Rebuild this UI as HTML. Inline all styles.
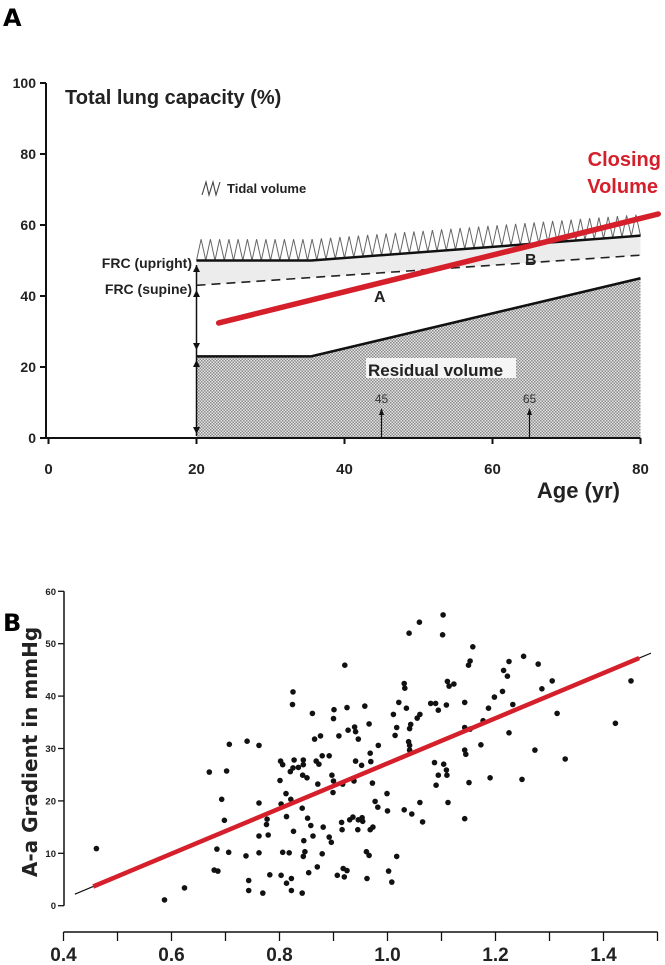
<!DOCTYPE html>
<html><head><meta charset="utf-8"><style>
html,body{margin:0;padding:0;background:#fff;}
svg{display:block;font-family:"Liberation Sans",Arial,sans-serif;}
</style></head><body>
<svg id="fig" width="665" height="965" viewBox="0 0 665 965" xmlns="http://www.w3.org/2000/svg">
<defs>
<pattern id="hatch" width="3" height="3" patternUnits="userSpaceOnUse">
<rect width="3" height="3" fill="#e6e6e6"/><rect width="1.5" height="1.5" fill="#8a8a8a"/><rect x="1.5" y="1.5" width="1.5" height="1.5" fill="#8a8a8a"/>
</pattern>
</defs>
<text x="3" y="26" font-size="24" font-weight="bold" font-family="DejaVu Sans,sans-serif">A</text>
<text x="3" y="631" font-size="24" font-weight="bold" font-family="DejaVu Sans,sans-serif">B</text>
<g id="topPanel"></g>
<g id="botPanel"></g>
</svg>
<script>
// ---- Panel A data ----
const ageTicks = [0, 20, 40, 60, 80];
const tlcTicks = [0, 20, 40, 60, 80, 100];
const rvAges = [20, 35.5, 80];
const rvValues = [23, 23, 45];
const frcUprightAges = [20, 35.5, 80];
const frcUprightValues = [50, 50, 57];
const frcSupineAges = [20, 80];
const frcSupineValues = [43, 51.5];
const closingAges = [23, 82.4];
const closingValues = [32.4, 63.1];
const tidalAmplitude = 6;
const tidalCycles = 48;
const markerAges = [45, 65];

// ---- Panel B data ----
const gradTicksX = [0.4, 0.6, 0.8, 1.0, 1.2, 1.4];
const gradTicksY = [0, 10, 20, 30, 40, 50, 60];
const ptX = [0.461,0.587,0.624,0.670,0.702,0.707,0.740,0.762,0.693,0.698,0.684,0.706,0.679,0.686,0.738,0.743,0.743,0.769,0.762,0.762,0.762,0.779,0.777,0.776,0.782,0.803,0.813,0.822,0.822,0.842,0.802,0.806,0.801,0.812,0.821,0.820,0.825,0.827,0.835,0.844,0.844,0.843,0.851,0.825,0.824,0.861,0.865,0.876,0.868,0.873,0.879,0.892,0.871,0.897,0.900,0.899,0.917,0.910,0.901,0.900,0.925,0.927,0.939,0.941,0.946,0.958,0.966,0.921,0.941,0.952,0.968,0.969,0.938,0.972,0.983,0.803,0.813,0.842,0.852,0.858,0.845,0.862,0.870,0.854,0.847,0.844,0.826,0.818,0.806,0.881,0.879,0.892,0.896,0.915,0.916,0.930,0.936,0.946,0.953,0.945,0.954,0.968,0.973,0.961,0.966,0.962,0.918,0.925,0.907,0.920,0.977,0.982,0.999,1.000,1.017,1.002,1.008,1.011,1.017,1.014,1.021,1.031,1.032,1.035,1.043,1.041,1.039,1.041,1.041,1.055,1.060,1.040,1.059,1.103,1.102,1.080,1.089,1.094,1.109,1.111,1.114,1.123,1.087,1.104,1.109,1.110,1.094,1.090,1.112,1.060,1.065,1.031,1.045,1.143,1.143,1.153,1.143,1.145,1.173,1.151,1.190,1.143,1.158,1.153,1.150,1.177,1.187,1.198,1.213,1.215,1.222,1.225,1.232,1.252,1.225,1.273,1.249,1.279,1.286,1.305,1.314,1.329,1.422,1.451];
const ptY = [10.9,1.1,3.4,25.5,25.7,30.8,31.4,30.6,20.3,16.3,10.8,10.2,6.8,6.6,9.5,4.8,2.9,2.4,19.6,10.1,13.3,13.5,16.5,15.5,5.9,5.8,4.3,5.2,2.9,2.4,27.6,26.9,23.9,21.4,20.3,25.6,26.3,27.8,26.4,27.8,26.9,24.9,24.4,40.8,38.4,36.7,31.8,32.4,27.6,27.0,28.6,28.6,23.2,24.9,23.8,21.6,23.2,32.4,37.4,35.7,37.8,33.5,34.1,33.2,31.8,38.1,34.7,45.9,27.6,26.8,29.1,27.5,23.8,23.4,30.6,19.4,17.0,18.6,16.7,15.3,12.4,13.3,7.4,6.3,10.3,9.4,14.2,10.1,10.2,15.0,9.9,13.1,12.1,15.9,14.5,16.4,16.9,16.4,16.8,14.5,16.1,14.5,15.0,10.3,9.6,5.2,7.1,6.7,5.8,5.5,19.9,18.8,21.4,18.1,9.4,6.6,4.5,36.5,34.0,32.5,38.8,42.4,41.5,37.7,34.6,33.8,31.3,29.7,30.6,35.8,36.5,52.0,54.1,55.5,51.7,38.6,38.6,37.3,38.3,42.8,41.9,42.3,27.3,27.0,25.9,24.9,24.9,23.0,19.7,19.7,16.0,18.3,17.5,38.8,34.0,33.7,29.7,28.9,30.7,23.5,24.4,16.6,49.4,46.7,45.9,35.3,37.7,39.8,40.9,44.9,43.8,46.6,38.4,47.6,33.0,29.7,24.1,46.1,41.4,42.9,36.7,28.0,34.8,42.9];
const fitX = [0.421, 1.488];
const fitY = [2.2, 48.2];
const fitRedX = [0.455, 1.466];

const NS = "http://www.w3.org/2000/svg";
function mk(parent, tag, attrs, text) {
  const el = document.createElementNS(NS, tag);
  for (const k in attrs) el.setAttribute(k, attrs[k]);
  if (text !== undefined) el.textContent = text;
  parent.appendChild(el);
  return el;
}

// ===== Panel A =====
const topG = document.getElementById('topPanel');
const X = a => 48.5 + a * 7.4;
const Y = v => 438 - v * 3.55;
const interp = (xs, ys, x) => { for (let i = 0; i < xs.length - 1; i++) { if (x <= xs[i+1]) { const t = (x - xs[i]) / (xs[i+1] - xs[i]); return ys[i] + t * (ys[i+1] - ys[i]); } } return ys[ys.length-1]; };

let pts = frcUprightAges.map((a,i)=>X(a)+','+Y(frcUprightValues[i]));
let pts2 = [];
for (let i = frcSupineAges.length - 1; i >= 0; i--) pts2.push(X(frcSupineAges[i])+','+Y(frcSupineValues[i]));
let e = mk(topG, 'polygon', {points: pts.concat(pts2).join(' '), fill: '#ececec'});



let rvPts = [X(rvAges[0]) + ',' + Y(0)].concat(rvAges.map((a,i)=>X(a)+','+Y(rvValues[i]))).concat([X(rvAges[rvAges.length-1]) + ',' + Y(0)]);
e = mk(topG, 'polygon', {points: rvPts.join(' '), fill: 'url(#hatch)'});


e = mk(topG, 'polyline', {points: rvAges.map((a,i)=>X(a)+','+Y(rvValues[i])).join(' '), fill: 'none', stroke: '#111', 'stroke-width': 2.5});



let zz = [];
const a0 = frcUprightAges[0], a1 = frcUprightAges[frcUprightAges.length-1];
const nseg = tidalCycles * 2;
for (let i = 0; i <= nseg; i++) {
  const a = a0 + (a1 - a0) * i / nseg;
  const base = interp(frcUprightAges, frcUprightValues, a);
  const v = (i % 2 === 0) ? base : base + tidalAmplitude;
  zz.push(X(a).toFixed(1) + ',' + Y(v).toFixed(1));
}
e = mk(topG, 'polyline', {points: zz.join(' '), fill: 'none', stroke: '#666', 'stroke-width': 1});



e = mk(topG, 'polyline', {points: frcUprightAges.map((a,i)=>X(a)+','+Y(frcUprightValues[i])).join(' '), fill: 'none', stroke: '#111', 'stroke-width': 2.5});


e = mk(topG, 'polyline', {points: frcSupineAges.map((a,i)=>X(a)+','+Y(frcSupineValues[i])).join(' '), fill: 'none', stroke: '#222', 'stroke-width': 1.6, 'stroke-dasharray': '9,6'});



e = mk(topG, 'line', {x1: X(0)-3, y1: Y(0), x2: X(80), y2: Y(0), stroke: '#111', 'stroke-width': 2});


e = mk(topG, 'line', {x1: 46, y1: Y(0)+1, x2: 46, y2: Y(100), stroke: '#111', 'stroke-width': 2});


ageTicks.forEach(a => {
  mk(topG, 'line', {x1: X(a), y1: Y(0), x2: X(a), y2: Y(0)+6, stroke: '#111', 'stroke-width': 2});
  const t = mk(topG, 'text', {x: X(a), y: 474, 'font-size': 15, 'font-weight': 'bold', 'text-anchor': 'middle', fill: '#222'}, String(a));
  
  
});
tlcTicks.forEach(v => {
  mk(topG, 'line', {x1: 40, y1: Y(v), x2: 46, y2: Y(v), stroke: '#111', 'stroke-width': 2});
  const t = mk(topG, 'text', {x: 36, y: Y(v)+5, 'font-size': 14, 'font-weight': 'bold', 'text-anchor': 'end', fill: '#222'}, String(v));
  
  
});

markerAges.forEach(a => {
  mk(topG, 'line', {x1: X(a), y1: Y(0), x2: X(a), y2: 413, stroke: '#111', 'stroke-width': 1.2});
  mk(topG, 'polygon', {points: `${X(a)-2.5},415 ${X(a)+2.5},415 ${X(a)},408`, fill: '#111'});
  const t = mk(topG, 'text', {x: X(a), y: 403, 'font-size': 12, 'text-anchor': 'middle', fill: '#333'}, String(a));
  
  
});

const ax = X(20);
mk(topG, 'line', {x1: ax, y1: 265, x2: ax, y2: 436, stroke: '#111', 'stroke-width': 1.5});
[[265,-1],[290,-1],[350,1],[360,-1],[434,1]].forEach(([yy,d]) => {
  mk(topG, 'polygon', {points: `${ax-3.5},${yy-d*7} ${ax+3.5},${yy-d*7} ${ax},${yy}`, fill: '#111'});
});

e = mk(topG, 'line', {x1: X(closingAges[0]), y1: Y(closingValues[0]), x2: X(closingAges[1]), y2: Y(closingValues[1]), stroke: '#d51f2b', 'stroke-width': 5.5, 'stroke-linecap': 'round'});



const lbl = (x,y,s,txt,name,extra) => { const t = mk(topG, 'text', Object.assign({x, y, 'font-size': s, 'font-weight': 'bold', fill: '#222'}, extra||{}), txt);   return t; };
lbl(65, 104, 20, 'Total lung capacity (%)', 'y-axis-title');
lbl(620, 498, 22, 'Age (yr)', 'x-axis-title', {'text-anchor': 'end'});
lbl(661, 166, 20, 'Closing', 'closing-volume-label', {'text-anchor': 'end', fill: '#d51f2b'});
lbl(658, 193, 20, 'Volume', 'closing-volume-label-2', {'text-anchor': 'end', fill: '#d51f2b'});
mk(topG, 'polyline', {points: '202,195 206,182 209,195 213,182 216,195 220,182', fill: 'none', stroke: '#444', 'stroke-width': 1.1});
lbl(227, 193, 13, 'Tidal volume', 'tidal-volume-legend');
lbl(192, 268, 14, 'FRC (upright)', 'frc-upright-label', {'text-anchor': 'end'});
lbl(192, 294, 14, 'FRC (supine)', 'frc-supine-label', {'text-anchor': 'end'});
lbl(374, 302, 16, 'A', 'point-a-label');
lbl(525, 265, 16, 'B', 'point-b-label');
mk(topG, 'rect', {x: 366, y: 358, width: 150, height: 20, fill: '#fff', opacity: 0.85});
lbl(368, 376, 17, 'Residual volume', 'residual-volume-label');

// ===== Panel B =====
const botG = document.getElementById('botPanel');
const bx = x => 63.5 + (x - 0.4) * 540;
const by = y => 905.7 - y * 5.24;

e = mk(botG, 'line', {x1: 64, y1: by(0), x2: 64, y2: by(60), stroke: '#111', 'stroke-width': 1.5});


gradTicksY.forEach(v => {
  mk(botG, 'line', {x1: 58, y1: by(v), x2: 64, y2: by(v), stroke: '#111', 'stroke-width': 1.3});
  const t = mk(botG, 'text', {x: 56, y: by(v)+3.5, 'font-size': 9.5, 'font-weight': 'bold', 'text-anchor': 'end', fill: '#222'}, String(v));
  
  
});
e = mk(botG, 'line', {x1: bx(0.4), y1: 932, x2: bx(1.5), y2: 932, stroke: '#111', 'stroke-width': 1.6});


for (let i = 0; i <= 11; i++) {
  const xv = 0.4 + i * 0.1;
  mk(botG, 'line', {x1: bx(xv), y1: 932, x2: bx(xv), y2: 941, stroke: '#111', 'stroke-width': 1.3});
}
gradTicksX.forEach(v => {
  const t = mk(botG, 'text', {x: bx(v), y: 961, 'font-size': 19, 'font-weight': 'bold', 'text-anchor': 'middle', fill: '#222'}, v.toFixed(1));
  
  
});
e = mk(botG, 'text', {x: 0, y: 0, 'font-size': 20, 'font-weight': 'bold', 'text-anchor': 'middle', fill: '#222', 'font-family': 'DejaVu Sans, sans-serif', transform: 'translate(37,752) rotate(-90)'}, 'A-a Gradient in mmHg');



ptX.forEach((x, i) => {
  const c = mk(botG, 'circle', {cx: bx(x).toFixed(1), cy: by(ptY[i]).toFixed(1), r: 2.8, fill: '#111'});
  
  
});
const fy = x => fitY[0] + (fitY[1]-fitY[0]) * (x - fitX[0]) / (fitX[1]-fitX[0]);
e = mk(botG, 'line', {x1: bx(fitX[0]), y1: by(fitY[0]), x2: bx(fitX[1]), y2: by(fitY[1]), stroke: '#111', 'stroke-width': 1.2});


e = mk(botG, 'line', {x1: bx(fitRedX[0]), y1: by(fy(fitRedX[0])), x2: bx(fitRedX[1]), y2: by(fy(fitRedX[1])), stroke: '#d51f2b', 'stroke-width': 4.5});


</script>
</body></html>
